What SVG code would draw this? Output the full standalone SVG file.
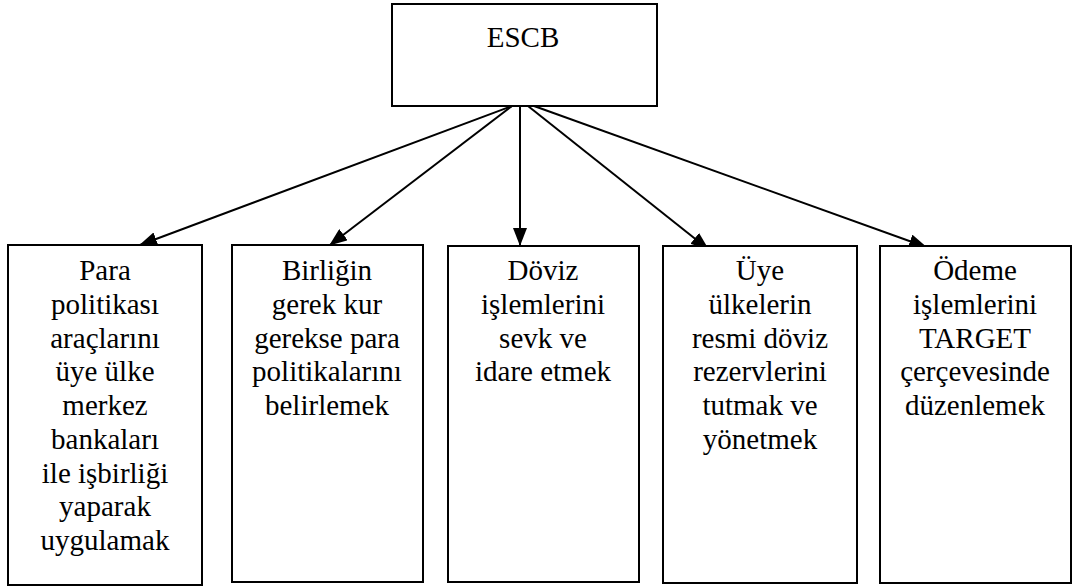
<svg xmlns="http://www.w3.org/2000/svg" width="1073" height="587" viewBox="0 0 1073 587">
<defs>
<marker id="ah" markerUnits="userSpaceOnUse" markerWidth="18" markerHeight="14" refX="17" refY="7" orient="auto">
<path d="M0,0 L18,7 L0,14 Z" fill="#000"/>
</marker>
<style>
.box{fill:#fff;stroke:#000;stroke-width:2}
.t{font-family:"Liberation Serif","Times New Roman",serif;font-size:29px;fill:#000;text-anchor:middle}
.c{stroke:#000;stroke-width:2;fill:none}
</style>
</defs>
<rect width="1073" height="587" fill="#fff"/>
<g id="connectors">
<line class="c" x1="512" y1="106" x2="140" y2="245" marker-end="url(#ah)"/>
<line class="c" x1="512" y1="106" x2="330" y2="245" marker-end="url(#ah)"/>
<line class="c" x1="520" y1="106" x2="520" y2="245" marker-end="url(#ah)"/>
<line class="c" x1="528" y1="106" x2="708" y2="249" marker-end="url(#ah)"/>
<line class="c" x1="534" y1="106" x2="926" y2="247" marker-end="url(#ah)"/>
</g>
<g id="escb">
<rect class="box" x="392" y="4" width="265" height="102"/>
<text class="t" x="523" y="47" font-size="32">ESCB</text>
</g>
<g id="n1">
<rect class="box" x="8" y="245" width="194" height="340"/>
<text class="t" x="105" y="280">Para</text>
<text class="t" x="105" y="314">politikası</text>
<text class="t" x="105" y="347.5">araçlarını</text>
<text class="t" x="105" y="381">üye ülke</text>
<text class="t" x="105" y="415">merkez</text>
<text class="t" x="105" y="449">bankaları</text>
<text class="t" x="105" y="482.5">ile işbirliği</text>
<text class="t" x="105" y="516">yaparak</text>
<text class="t" x="105" y="550">uygulamak</text>
</g>
<g id="n2">
<rect class="box" x="232" y="245" width="191" height="337"/>
<text class="t" x="327" y="280">Birliğin</text>
<text class="t" x="327" y="314">gerek kur</text>
<text class="t" x="327" y="347.5">gerekse para</text>
<text class="t" x="327" y="381">politikalarını</text>
<text class="t" x="327" y="415">belirlemek</text>
</g>
<g id="n3">
<rect class="box" x="448" y="246" width="191" height="336"/>
<text class="t" x="543" y="280">Döviz</text>
<text class="t" x="543" y="314">işlemlerini</text>
<text class="t" x="543" y="347.5">sevk ve</text>
<text class="t" x="543" y="381">idare etmek</text>
</g>
<g id="n4">
<rect class="box" x="663" y="246" width="194" height="337"/>
<text class="t" x="760" y="280">Üye</text>
<text class="t" x="760" y="314">ülkelerin</text>
<text class="t" x="760" y="347.5">resmi döviz</text>
<text class="t" x="760" y="381">rezervlerini</text>
<text class="t" x="760" y="415">tutmak ve</text>
<text class="t" x="760" y="449">yönetmek</text>
</g>
<g id="n5">
<rect class="box" x="880" y="246" width="191" height="337"/>
<text class="t" x="975" y="280">Ödeme</text>
<text class="t" x="975" y="314">işlemlerini</text>
<text class="t" x="975" y="347.5">TARGET</text>
<text class="t" x="975" y="381">çerçevesinde</text>
<text class="t" x="975" y="415">düzenlemek</text>
</g>
</svg>
